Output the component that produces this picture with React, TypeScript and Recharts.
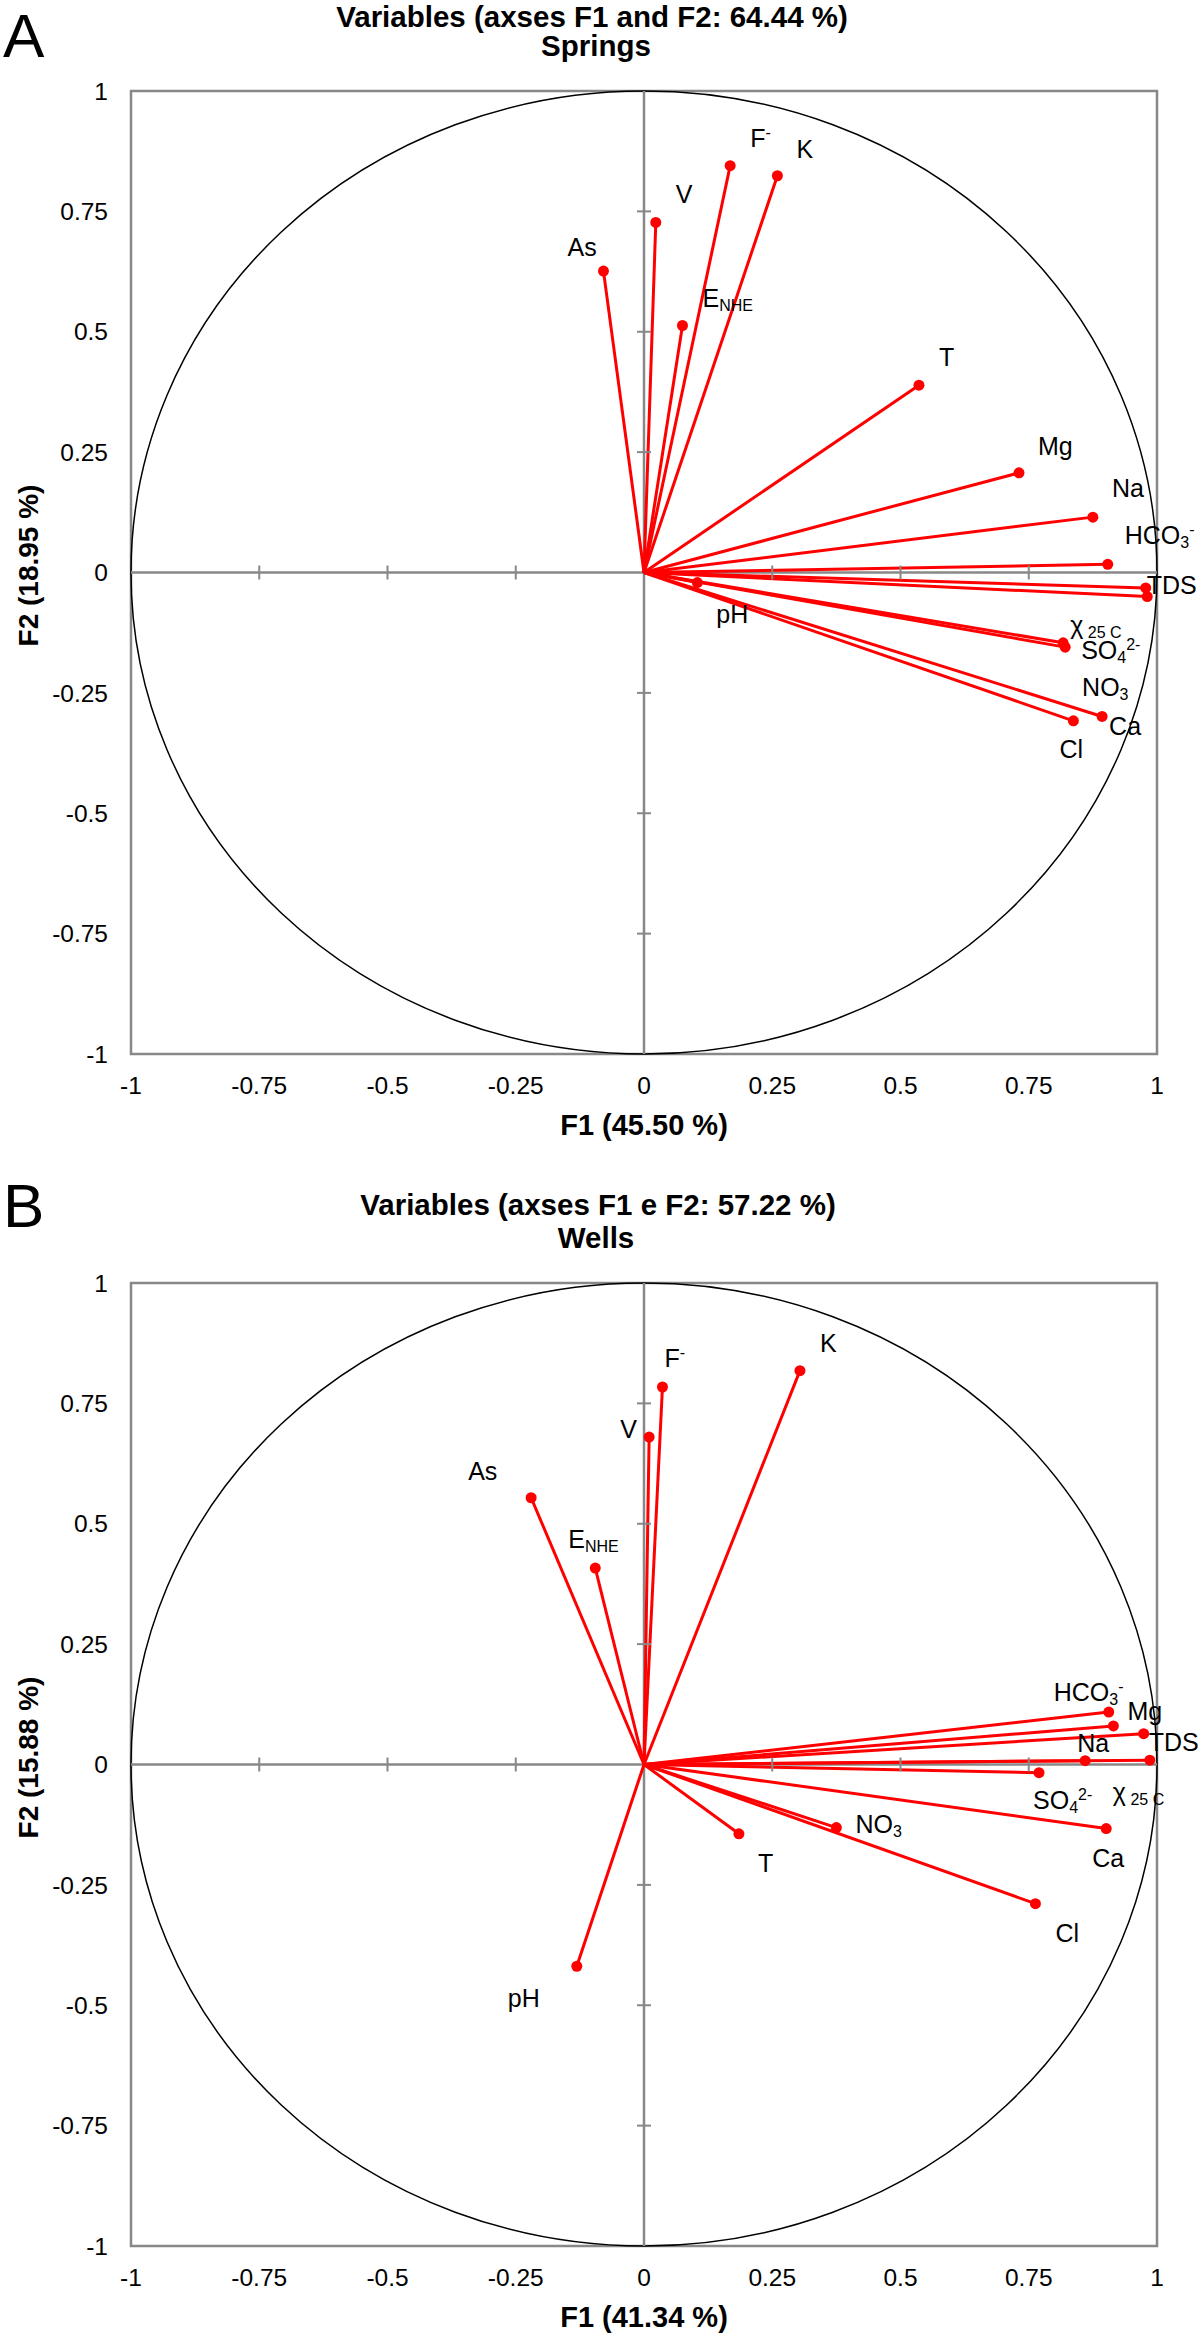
import React from "react";
import {
  ComposedChart,
  Line,
  XAxis,
  YAxis,
  ReferenceArea,
  ReferenceLine,
  ReferenceDot,
} from "recharts";

// variable order shared by both panels
const variables = [
  "As", "V", "F", "K", "ENHE", "T", "Mg", "Na",
  "HCO3", "TDS", "X25C", "SO4", "NO3", "Ca", "Cl", "pH",
];

// Springs (panel A) loadings
const springsF1 = [-0.079, 0.023, 0.168, 0.26, 0.075, 0.536, 0.731, 0.875, 0.904, 0.978, 0.981, 0.821, 0.817, 0.893, 0.837, 0.104];
const springsF2 = [0.626, 0.727, 0.845, 0.824, 0.513, 0.389, 0.207, 0.115, 0.017, -0.032, -0.05, -0.155, -0.146, -0.299, -0.308, -0.021];

// Wells (panel B) loadings
const wellsF1 = [-0.22, 0.01, 0.036, 0.304, -0.095, 0.185, 0.915, 0.86, 0.906, 0.974, 0.986, 0.77, 0.375, 0.901, 0.763, -0.131];
const wellsF2 = [0.554, 0.68, 0.784, 0.818, 0.408, -0.144, 0.08, 0.008, 0.109, 0.064, 0.009, -0.017, -0.131, -0.133, -0.289, -0.419];

const axisTicks = [-1, -0.75, -0.5, -0.25, 0, 0.25, 0.5, 0.75, 1];
const innerTicks = [-0.75, -0.5, -0.25, 0.25, 0.5, 0.75];

type Part = [string, "n" | "sub" | "sup"];
const labelParts: Record<string, Part[]> = {
  As: [["As", "n"]],
  V: [["V", "n"]],
  F: [["F", "n"], ["-", "sup"]],
  K: [["K", "n"]],
  ENHE: [["E", "n"], ["NHE", "sub"]],
  T: [["T", "n"]],
  Mg: [["Mg", "n"]],
  Na: [["Na", "n"]],
  HCO3: [["HCO", "n"], ["3", "sub"], ["-", "sup"]],
  TDS: [["TDS", "n"]],
  X25C: [["χ", "n"], [" 25 C", "sub"]],
  SO4: [["SO", "n"], ["4", "sub"], ["2-", "sup"]],
  NO3: [["NO", "n"], ["3", "sub"]],
  Ca: [["Ca", "n"]],
  Cl: [["Cl", "n"]],
  pH: [["pH", "n"]],
};

// label placement relative to the end dot (px): left edge, cap centre
const springsLabelPos: Record<string, [number, number]> = {
  As: [-36, -24], V: [20, -28], F: [20, -28], K: [19, -27], ENHE: [20, -27],
  T: [20, -28], Mg: [19, -27], Na: [19, -29], HCO3: [17, -29], TDS: [1, -3],
  X25C: [-77, 28], SO4: [16, 3], NO3: [19, 44], Ca: [7, 10], Cl: [-14, 28], pH: [19, 31],
};
const wellsLabelPos: Record<string, [number, number]> = {
  As: [-63, -27], V: [-29, -8], F: [2, -29], K: [20, -28], ENHE: [-27, -29],
  T: [19, 29], Mg: [14, -15], Na: [-8, -18], HCO3: [-55, -20], TDS: [5, 8],
  X25C: [-37, 32], SO4: [-6, 27], NO3: [19, -4], Ca: [-14, 29], Cl: [20, 29], pH: [-69, 32],
};

const FONT = "'Liberation Sans', Arial, Helvetica, sans-serif";
const RED = "#ff0000";
const GREY = "#888888";
const PLOT_LEFT = 131;
const PLOT_RIGHT = 1157;
const PLOT_TOP = 91;
const CHART_H = 1144;
const X_AXIS_H = 50;
const BOTTOM = 40;
const PLOT_BOTTOM = CHART_H - BOTTOM - X_AXIS_H;
const LABEL_SIZE = 25;

function VarLabel({ x, y, parts }: { x: number; y: number; parts: Part[] }) {
  let cur = 0;
  return (
    <text x={x} y={y} fontSize={LABEL_SIZE} fill="#000" fontFamily={FONT}>
      {parts.map(([t, k], i) => {
        const target = k === "sub" ? 4 : k === "sup" ? -9 : 0;
        const dy = target - cur;
        cur = target;
        return (
          <tspan key={i} dy={dy} fontSize={k === "n" ? LABEL_SIZE : 16}>
            {t}
          </tspan>
        );
      })}
    </text>
  );
}

const ellipseShape = (p: any) => (
  <ellipse
    cx={p.x + p.width / 2}
    cy={p.y + p.height / 2}
    rx={Math.abs(p.width) / 2}
    ry={Math.abs(p.height) / 2}
    fill="none"
    stroke="#000"
    strokeWidth={1.5}
  />
);

const vTick = (p: any) => (
  <line x1={p.cx} x2={p.cx} y1={p.cy - 7} y2={p.cy + 7} stroke={GREY} strokeWidth={2} />
);
const hTick = (p: any) => (
  <line x1={p.cx - 7} x2={p.cx + 7} y1={p.cy} y2={p.cy} stroke={GREY} strokeWidth={2} />
);

function Panel({
  f1,
  f2,
  labelPos,
  xTitle,
  yTitle,
}: {
  f1: number[];
  f2: number[];
  labelPos: Record<string, [number, number]>;
  xTitle: string;
  yTitle: string;
}) {
  const series = variables.map((name, i) => ({
    name,
    data: [
      { x: 0, y: 0 },
      { x: f1[i], y: f2[i] },
    ],
  }));
  const midY = (PLOT_TOP + PLOT_BOTTOM) / 2 - 7;

  const endDot = (name: string) => (p: any) => {
    if (p.index !== 1) return <g key={`${name}-o`} />;
    const [dx, dy] = labelPos[name];
    return (
      <g key={`${name}-e`}>
        <circle cx={p.cx} cy={p.cy} r={5.5} fill={RED} />
        <VarLabel x={p.cx + dx} y={p.cy + dy + 9} parts={labelParts[name]} />
      </g>
    );
  };

  return (
    <ComposedChart
      width={1200}
      height={CHART_H}
      margin={{ top: PLOT_TOP, right: 1200 - PLOT_RIGHT, bottom: BOTTOM, left: PLOT_LEFT - 100 }}
    >
      <XAxis
        type="number"
        dataKey="x"
        domain={[-1, 1]}
        ticks={axisTicks}
        interval={0}
        height={X_AXIS_H}
        axisLine={false}
        tickLine={false}
        tickSize={0}
        tickMargin={23}
        tick={{ fontSize: 24.5, fill: "#000", fontFamily: FONT }}
        label={() => (
          <text
            x={(PLOT_LEFT + PLOT_RIGHT) / 2}
            y={PLOT_BOTTOM + 81}
            textAnchor="middle"
            fontSize={29}
            fontWeight="bold"
            fill="#000"
            fontFamily={FONT}
          >
            {xTitle}
          </text>
        )}
      />
      <YAxis
        type="number"
        domain={[-1, 1]}
        ticks={axisTicks}
        interval={0}
        width={100}
        axisLine={false}
        tickLine={false}
        tickSize={0}
        tickMargin={23}
        tick={{ fontSize: 24.5, fill: "#000", fontFamily: FONT }}
        label={() => (
          <text
            x={38}
            y={midY}
            transform={`rotate(-90 38 ${midY})`}
            textAnchor="middle"
            fontSize={28}
            fontWeight="bold"
            fill="#000"
            fontFamily={FONT}
          >
            {yTitle}
          </text>
        )}
      />
      <ReferenceArea x1={-1} x2={1} y1={-1} y2={1} fill="none" fillOpacity={0} stroke={GREY} strokeWidth={2.5} />
      <ReferenceArea x1={-1} x2={1} y1={-1} y2={1} shape={ellipseShape} />
      <ReferenceLine x={0} stroke={GREY} strokeWidth={2.5} />
      <ReferenceLine y={0} stroke={GREY} strokeWidth={2.5} />
      {innerTicks.map((t) => (
        <ReferenceDot key={`tx${t}`} x={t} y={0} shape={vTick} />
      ))}
      {innerTicks.map((t) => (
        <ReferenceDot key={`ty${t}`} x={0} y={t} shape={hTick} />
      ))}
      {series.map((s) => (
        <Line
          key={s.name}
          data={s.data}
          dataKey="y"
          type="linear"
          stroke={RED}
          strokeWidth={3}
          dot={endDot(s.name)}
          activeDot={false}
          legendType="none"
          isAnimationActive={false}
        />
      ))}
    </ComposedChart>
  );
}

export default function App() {
  return (
    <div
      style={{
        position: "absolute",
        left: 0,
        top: 0,
        width: 1200,
        height: 2336,
        background: "#fff",
        fontFamily: FONT,
        overflow: "hidden",
      }}
    >
      <div style={{ position: "absolute", left: 0, top: 0 }}>
        <Panel
          f1={springsF1}
          f2={springsF2}
          labelPos={springsLabelPos}
          xTitle="F1 (45.50 %)"
          yTitle="F2 (18.95 %)"
        />
      </div>
      <div style={{ position: "absolute", left: 0, top: 1192 }}>
        <Panel
          f1={wellsF1}
          f2={wellsF2}
          labelPos={wellsLabelPos}
          xTitle="F1 (41.34 %)"
          yTitle="F2 (15.88 %)"
        />
      </div>
      <svg
        width={1200}
        height={2336}
        style={{ position: "absolute", left: 0, top: 0, pointerEvents: "none" }}
      >
        <g fontFamily={FONT} fill="#000">
          <text x={3} y={57} fontSize={62}>A</text>
          <text x={592} y={27} fontSize={29.5} fontWeight="bold" textAnchor="middle">
            Variables (axses F1 and F2: 64.44 %)
          </text>
          <text x={596} y={56} fontSize={29.5} fontWeight="bold" textAnchor="middle">
            Springs
          </text>
          <text x={3} y={1227} fontSize={62}>B</text>
          <text x={598} y={1215} fontSize={29.5} fontWeight="bold" textAnchor="middle">
            Variables (axses F1 e F2: 57.22 %)
          </text>
          <text x={596} y={1248} fontSize={29.5} fontWeight="bold" textAnchor="middle">
            Wells
          </text>
        </g>
      </svg>
    </div>
  );
}
